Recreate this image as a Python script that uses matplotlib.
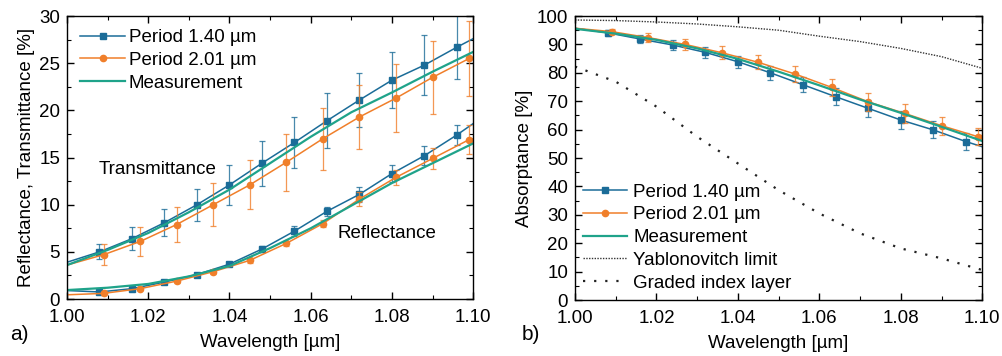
"""
Reflectance / transmittance (a) and absorptance (b) vs wavelength.
"""
import matplotlib

matplotlib.use("Agg")
import matplotlib.pyplot as plt
import numpy as np
from matplotlib.ticker import MultipleLocator

plt.rcParams["font.family"] = ["Liberation Sans", "DejaVu Sans"]

# ── Data ─────────────────────────────────────────────────────────────────────
wl_p140 = [1.000, 1.008, 1.016, 1.024, 1.032, 1.040, 1.048, 1.056, 1.064,
           1.072, 1.080, 1.088, 1.096, 1.100]
wl_p201 = [1.000, 1.009, 1.018, 1.027, 1.036, 1.045, 1.054, 1.063, 1.072,
           1.081, 1.090, 1.099, 1.100]
wl_meas = [1.00, 1.01, 1.02, 1.03, 1.04, 1.05, 1.06, 1.07, 1.08, 1.09, 1.10]

# transmittance [%]
T_p140 = [3.9, 5.0, 6.4, 8.1, 10.0, 12.1, 14.4, 16.6, 18.9, 21.1, 23.2, 24.8, 26.7, 27.6]
T_p140_err = [0.0, 0.8, 1.2, 1.4, 1.7, 2.1, 2.4, 2.7, 2.9, 2.9, 3.0, 3.2, 3.4, 0.0]
T_p201 = [3.6, 4.7, 6.1, 7.9, 10.0, 12.1, 14.5, 17.0, 19.3, 21.3, 23.5, 25.5, 25.6]
T_p201_err = [0.0, 1.1, 1.5, 1.9, 2.3, 2.6, 3.0, 3.3, 3.4, 3.6, 3.9, 4.0, 0.0]
T_meas = [3.6, 5.2, 7.0, 9.2, 11.6, 14.4, 17.2, 19.8, 21.9, 24.1, 26.2]

# reflectance [%]
R_p140 = [0.9, 0.75, 1.1, 1.8, 2.6, 3.7, 5.3, 7.2, 9.3, 11.1, 13.3, 15.2, 17.4, 18.6]
R_p140_err = [0.0, 0.15, 0.15, 0.2, 0.2, 0.25, 0.3, 0.5, 0.5, 0.8, 0.9, 1.0, 1.1, 0.0]
R_p201 = [0.45, 0.6, 1.1, 1.9, 2.9, 4.1, 5.9, 8.0, 10.6, 12.9, 14.9, 16.9, 17.0]
R_p201_err = [0.0, 0.15, 0.15, 0.2, 0.2, 0.25, 0.3, 0.4, 0.7, 0.8, 1.1, 1.5, 0.0]
R_meas = [0.95, 1.2, 1.6, 2.4, 3.5, 5.4, 7.5, 9.9, 12.3, 14.4, 16.5]

# absorptance [%]
A_p140 = [95.7, 94.1, 91.9, 89.8, 87.2, 83.9, 80.0, 75.8, 71.6, 67.5, 63.4, 59.9, 55.8, 54.0]
A_p140_err = [0.0, 1.0, 1.3, 1.6, 1.9, 2.2, 2.5, 2.7, 3.0, 3.0, 3.0, 3.0, 3.0, 0.0]
A_p201 = [95.7, 94.5, 92.4, 90.0, 87.1, 83.7, 79.6, 74.9, 69.8, 65.7, 61.4, 57.5, 58.0]
A_p201_err = [0.0, 1.0, 1.5, 1.9, 2.3, 2.5, 2.8, 3.0, 3.2, 3.2, 3.2, 3.0, 0.0]
A_meas = [95.5, 93.8, 91.6, 88.6, 84.9, 80.4, 75.6, 70.6, 65.9, 61.0, 56.0]

wl_limits = [1.00, 1.01, 1.02, 1.03, 1.04, 1.05, 1.06, 1.07, 1.08, 1.09, 1.10]
A_yablonovitch = [98.6, 98.4, 97.9, 97.2, 96.2, 95.0, 92.9, 91.0, 88.6, 85.7, 81.6]
A_graded = [82.2, 76.9, 68.1, 57.5, 48.1, 38.7, 30.5, 23.5, 18.2, 14.7, 10.6]

BLUE = "#1b6c98"
ORANGE = "#f07f2a"
GREEN = "#1fa38a"
FS = 13.5


def style_axes(ax, ymax, ymajor):
    ax.set_xlim(1.00, 1.10)
    ax.set_ylim(0, ymax)
    ax.xaxis.set_major_locator(MultipleLocator(0.02))
    ax.xaxis.set_minor_locator(MultipleLocator(0.01))
    ax.yaxis.set_major_locator(MultipleLocator(ymajor))
    ax.yaxis.set_minor_locator(MultipleLocator(ymajor / 2))
    ax.xaxis.set_major_formatter(lambda v, p: f"{v:.2f}")
    ax.tick_params(which="both", direction="in", top=True, right=True,
                   labelsize=FS)
    ax.tick_params(axis="x", pad=7)
    ax.tick_params(axis="y", pad=5)
    ax.tick_params(which="major", length=5, width=1)
    ax.tick_params(which="minor", length=3, width=0.8)
    ax.set_xlabel("Wavelength [µm]", fontsize=FS, labelpad=6)
    for s in ax.spines.values():
        s.set_linewidth(1.0)


def sim(ax, x, y, err, color, marker):
    ax.errorbar(x[1:-1], y[1:-1], yerr=err[1:-1], fmt="none", ecolor=color,
                elinewidth=0.9, capsize=2.5, capthick=0.9, alpha=0.8)
    ax.plot(x, y, color=color, lw=1.1)
    ax.plot(x[1:-1], y[1:-1], ls="none", marker=marker, ms=4.5, color=color)


fig = plt.figure(figsize=(10.03, 3.56), dpi=100)
ax1 = fig.add_axes([0.0668, 0.160, 0.405, 0.795])
ax2 = fig.add_axes([0.5733, 0.157, 0.406, 0.798])

# ── a) reflectance / transmittance ───────────────────────────────────────────
sim(ax1, wl_p140, T_p140, T_p140_err, BLUE, "s")
sim(ax1, wl_p140, R_p140, R_p140_err, BLUE, "s")
sim(ax1, wl_p201, T_p201, T_p201_err, ORANGE, "o")
sim(ax1, wl_p201, R_p201, R_p201_err, ORANGE, "o")
ax1.plot(wl_meas, T_meas, color=GREEN, lw=1.6)
ax1.plot(wl_meas, R_meas, color=GREEN, lw=1.6)

h1 = [plt.Line2D([], [], color=BLUE, lw=1.1, marker="s", ms=4.5),
      plt.Line2D([], [], color=ORANGE, lw=1.1, marker="o", ms=4.5),
      plt.Line2D([], [], color=GREEN, lw=1.6)]
ax1.legend(h1, ["Period 1.40 µm", "Period 2.01 µm", "Measurement"],
           loc="upper left", frameon=False, fontsize=FS, handlelength=2.4,
           handletextpad=0.2, labelspacing=0.3, borderaxespad=0.4,
           borderpad=0.3)
ax1.text(1.0224, 13.7, "Transmittance", fontsize=FS, ha="center", va="center")
ax1.text(1.0788, 7.0, "Reflectance", fontsize=FS, ha="center", va="center")
style_axes(ax1, 30, 5)
ax1.set_ylabel("Reflectance, Transmittance [%]", fontsize=FS, labelpad=3)
fig.text(0.010, 0.045, "a)", fontsize=15)

# ── b) absorptance ───────────────────────────────────────────────────────────
sim(ax2, wl_p140, A_p140, A_p140_err, BLUE, "s")
sim(ax2, wl_p201, A_p201, A_p201_err, ORANGE, "o")
ax2.plot(wl_meas, A_meas, color=GREEN, lw=1.6)
ax2.plot(wl_limits, A_yablonovitch, color="#333333", lw=1.0, ls=(0, (1, 1)))
ax2.plot(wl_limits, A_graded, color="#222222", lw=1.6, ls=(0, (1, 4)))

h2 = h1 + [plt.Line2D([], [], color="#333333", lw=1.0, ls=(0, (1, 1))),
           plt.Line2D([], [], color="#222222", lw=1.6, ls=(0, (1, 4)))]
ax2.legend(h2, ["Period 1.40 µm", "Period 2.01 µm", "Measurement",
                "Yablonovitch limit", "Graded index layer"],
           loc="lower left", frameon=False, fontsize=FS, handlelength=2.3,
           handletextpad=0.35, labelspacing=0.3, borderaxespad=0.2,
           borderpad=0.25)
style_axes(ax2, 100, 10)
ax2.set_ylabel("Absorptance [%]", fontsize=FS, labelpad=3)
fig.text(0.520, 0.045, "b)", fontsize=15)

plt.savefig("out.png", dpi=100)
plt.close(fig)
